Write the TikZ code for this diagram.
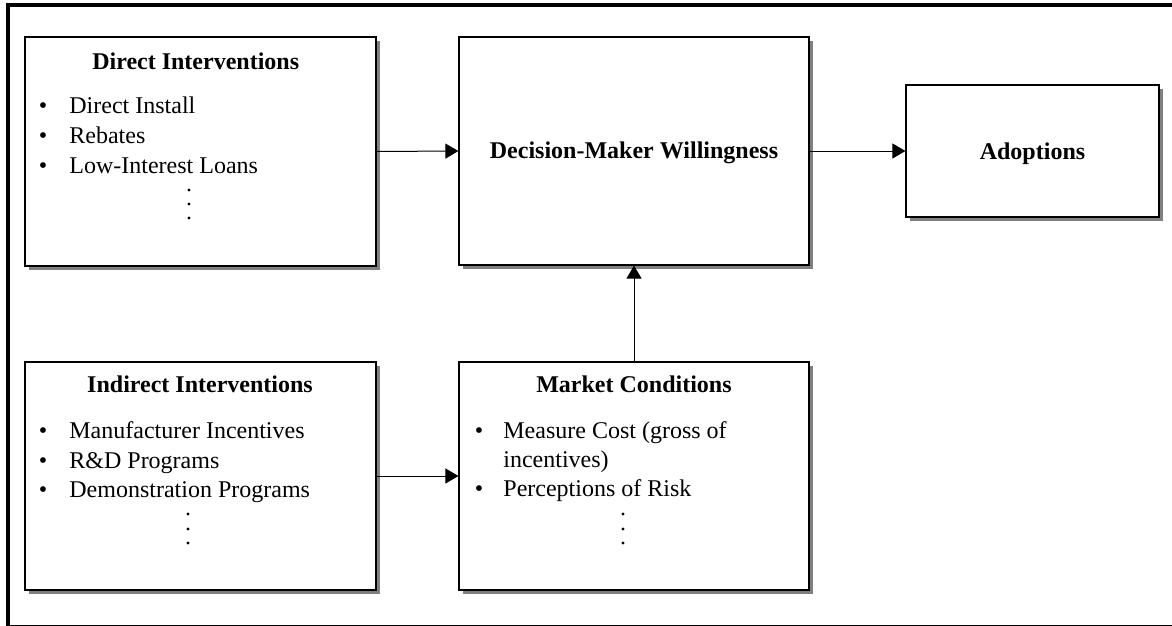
\documentclass[tikz,border=0pt]{standalone}
\usepackage{fontspec}
\setmainfont{Liberation Serif}
\usetikzlibrary{arrows.meta,shadows}
\tikzset{
  box/.style={draw=black, line width=0.6pt, fill=white, rectangle, inner sep=0pt,
    drop shadow={shadow xshift=2pt, shadow yshift=-2pt, opacity=1, fill=black!50}},
  txt/.style={inner sep=0pt, font=\fontsize{12}{15}\selectfont},
  ttl/.style={txt, font=\fontsize{12}{15}\selectfont\bfseries, anchor=base},
  itm/.style={txt, anchor=base west},
  bul/.style={txt, anchor=base},
  edot/.style={circle, fill=black, inner sep=0pt, minimum size=1.6pt},
  arr/.style={line width=0.5pt, -{Triangle[length=6.5pt,width=7.5pt]}},
}
\begin{document}
\begin{tikzpicture}[x=0.5pt,y=-0.5pt]
\useasboundingbox (0,0) rectangle (1172,626);
\begin{scope}
\clip (0,0) rectangle (1172,626);
\draw[line width=1.8pt] (8,5) rectangle (1182,626.5);
\end{scope}

% boxes
\node[box, minimum width=175.5pt, minimum height=114.5pt] (di) at (200.5,151.5) {};
\node[box, minimum width=175pt, minimum height=114pt] (dmw) at (634,151) {};
\node[box, minimum width=126.5pt, minimum height=66pt] (ad) at (1032.5,151) {};
\node[box, minimum width=175.5pt, minimum height=114pt] (ii) at (200.5,476) {};
\node[box, minimum width=175pt, minimum height=114pt] (mc) at (634,476) {};

% Direct Interventions
\node[ttl] (dit) at (195.7,70) {Direct Interventions};
\node[bul] (dib1) at (43,113) {•};
\node[itm] (di1) at (69,113) {Direct Install};
\node[bul] (dib2) at (43,143) {•};
\node[itm] (di2) at (69,143) {Rebates};
\node[bul] (dib3) at (43,173) {•};
\node[itm] (di3) at (69,173) {Low-Interest Loans};
\node[edot] (did1) at (189,190) {};
\node[edot] (did2) at (189,204) {};
\node[edot] (did3) at (189,218) {};

% Decision-Maker Willingness
\node[ttl] (dmwt) at (634,158) {Decision-Maker Willingness};

% Adoptions
\node[ttl] (adt) at (1032.5,159) {Adoptions};

% Indirect Interventions
\node[ttl] (iit) at (200,392) {Indirect Interventions};
\node[bul] (iib1) at (43,438) {•};
\node[itm] (ii1) at (69,438) {Manufacturer Incentives};
\node[bul] (iib2) at (43,468) {•};
\node[itm] (ii2) at (69,468) {R\&D Programs};
\node[bul] (iib3) at (43,497) {•};
\node[itm] (ii3) at (69,497) {Demonstration Programs};
\node[edot] (iid1) at (188,514) {};
\node[edot] (iid2) at (188,529) {};
\node[edot] (iid3) at (188,543) {};

% Market Conditions
\node[ttl] (mct) at (634,392) {Market Conditions};
\node[bul] (mcb1) at (479,438) {•};
\node[itm] (mc1) at (503,438) {Measure Cost (gross of};
\node[itm] (mc1b) at (503,467) {incentives)};
\node[bul] (mcb2) at (479,496) {•};
\node[itm] (mc2) at (503,496) {Perceptions of Risk};
\node[edot] (mcd1) at (623,514) {};
\node[edot] (mcd2) at (623,529) {};
\node[edot] (mcd3) at (623,543) {};

% connectors
\draw[arr] (di.east) -- (dmw.west);
\draw[arr] (dmw.east) -- (ad.west);
\draw[arr] (ii.east) -- (mc.west);
\draw[arr] (mc.north) -- (dmw.south);
\end{tikzpicture}
\end{document}
